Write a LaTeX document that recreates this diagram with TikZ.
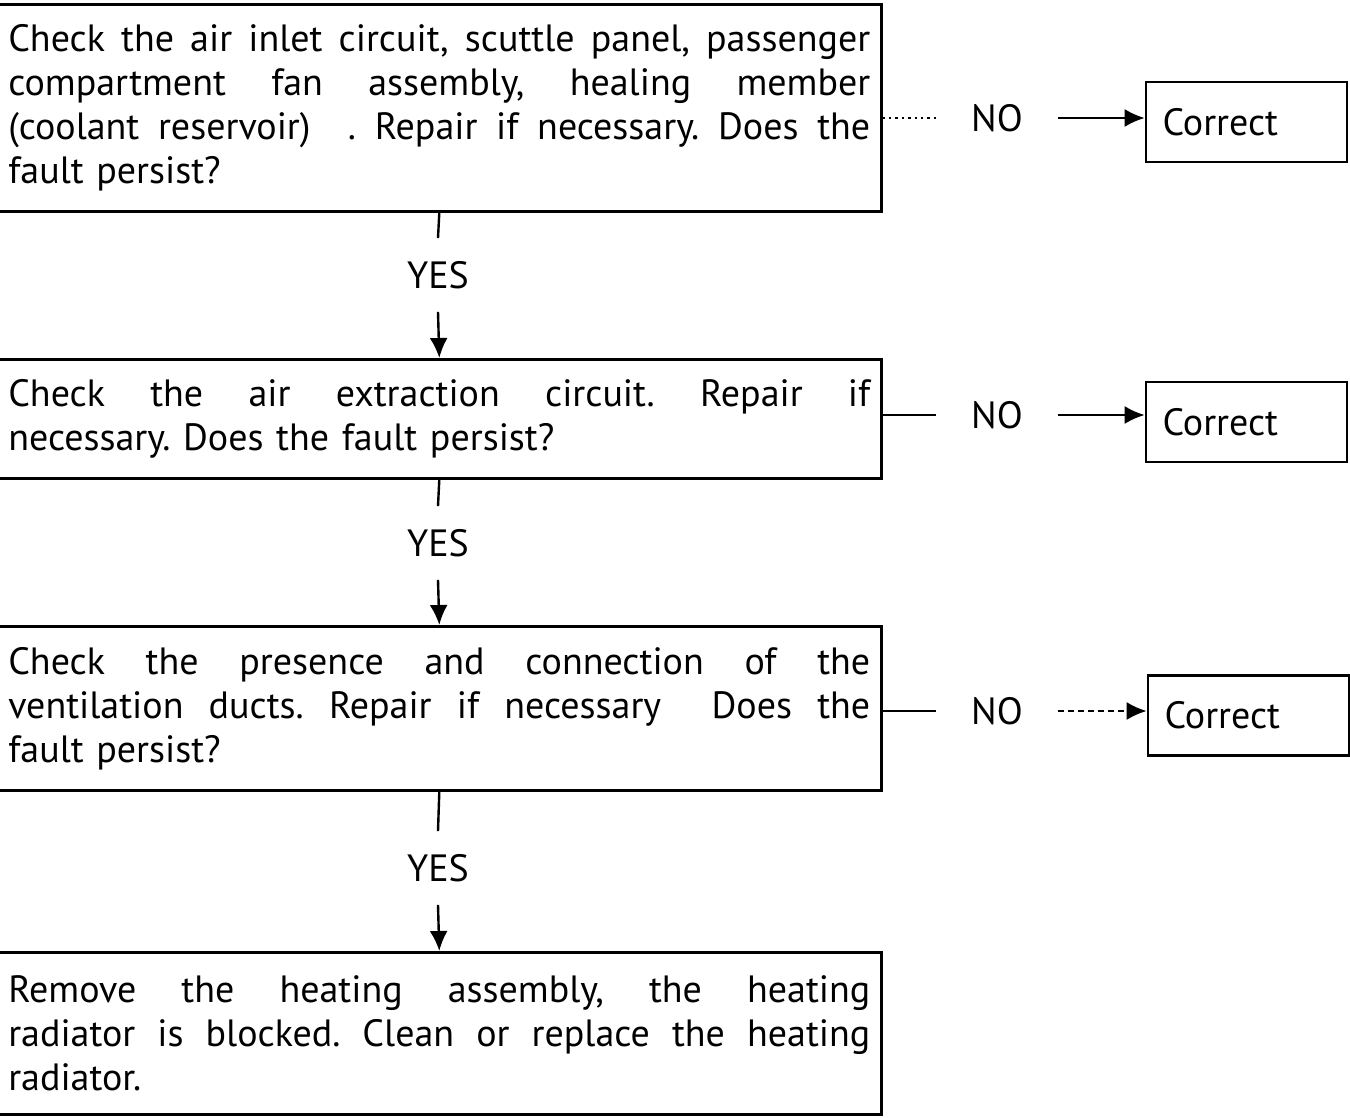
\documentclass[tikz,border=0pt]{standalone}
\usepackage{fontspec}
\setmainfont{PT Sans}
\usetikzlibrary{arrows.meta}

% one justified line of a box text
\newlength{\boxtextwidth}
\setlength{\boxtextwidth}{431pt}
\newcommand{\jline}[1]{\makebox[\boxtextwidth][s]{\spaceskip=.3em plus 5em\xspaceskip=\spaceskip #1}\\}

\begin{document}
\begin{tikzpicture}[x=0.5pt, y=-0.5pt, line width=1.2pt]

\tikzstyle{faultnode}=[draw=black, line width=1.3pt, anchor=north west,
text width=\boxtextwidth, inner xsep=5.5pt, align=left,
font=\fontsize{19}{22}\selectfont\frenchspacing]
\tikzstyle{correctnode}=[draw=black, line width=1.3pt, minimum width=100.5pt,
minimum height=40pt, text width=84pt, inner xsep=8pt, align=left,
font=\fontsize{19}{22}\selectfont]
\tikzstyle{answer}=[inner xsep=17pt, inner ysep=11pt, font=\fontsize{19}{22}\selectfont]
\tikzstyle{tip}=[-{Latex[length=10pt,width=9pt]}]

\useasboundingbox (0,0) rectangle (1350,1118);

% question boxes
\node[faultnode, minimum height=103.5pt] (q1) at (-4,3)
{\jline{Check the air inlet circuit, scuttle panel, passenger}
\jline{compartment fan assembly, healing member}
\jline{(coolant reservoir) \ . Repair if necessary. Does the}
fault persist?};
\node[faultnode, minimum height=59.5pt] (q2) at (-4,358)
{\jline{Check the air extraction circuit. Repair if}
necessary. Does the fault persist?};
\node[faultnode, minimum height=82pt] (q3) at (-4,625)
{\jline{Check the presence and connection of the}
\jline{ventilation ducts. Repair if necessary \ Does the}
fault persist?};
\node[faultnode, minimum height=81pt] (q4) at (-4,951)
{\jline{Remove the heating assembly, the heating}
\jline{radiator is blocked. Clean or replace the heating}
radiator.};

% answers
\node[answer] (y1) at (438,275) {YES};
\node[answer] (y2) at (438,543) {YES};
\node[answer] (y3) at (438,868) {YES};
\node[answer] (n1) at (997,118) {NO};
\node[answer] (n2) at (997,415) {NO};
\node[answer] (n3) at (997,711) {NO};

% outcomes
\node[correctnode] (c1) at (1246.5,122) {Correct};
\node[correctnode] (c2) at (1246.5,422) {Correct};
\node[correctnode] (c3) at (1248.5,715.5) {Correct};

% yes branches
\draw (q1.south) -- (y1.north);
\draw[tip] (y1.south) -- (q2.north);
\draw (q2.south) -- (y2.north);
\draw[tip] (y2.south) -- (q3.north);
\draw (q3.south) -- (y3.north);
\draw[tip] (y3.south) -- (q4.north);

% no branches
\draw[dotted] (q1.east |- n1) -- (n1);
\draw[tip] (n1) -- (n1 -| c1.west);
\draw (q2.east |- n2) -- (n2);
\draw[tip] (n2) -- (n2 -| c2.west);
\draw (q3.east |- n3) -- (n3);
\draw[tip, densely dashed] (n3) -- (n3 -| c3.west);

\end{tikzpicture}
\end{document}
